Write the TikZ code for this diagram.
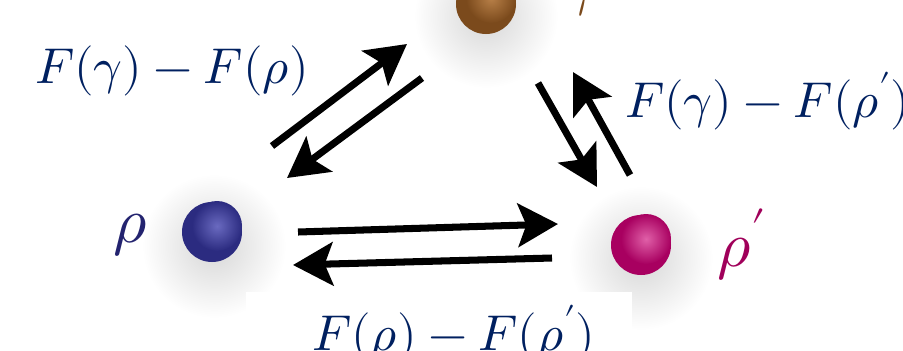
\documentclass[tikz,border=0pt]{standalone}
\usepackage{amsmath, amssymb}
\usepackage{unicode-math}
\usepackage{tikz}
\usetikzlibrary{arrows.meta}

\definecolor{labelblue}{HTML}{002060}
\definecolor{rhoblue}{HTML}{23236F}
\definecolor{rhopink}{HTML}{A0005A}
\definecolor{gambrown}{HTML}{7B4A1C}
\definecolor{blueball}{HTML}{2B2B80}
\definecolor{bluelight}{HTML}{6A6AC0}
\definecolor{pinkball}{HTML}{A80060}
\definecolor{pinklight}{HTML}{E060A8}
\definecolor{brownball}{HTML}{7B4A1C}
\definecolor{brownlight}{HTML}{B88048}

\tikzset{
  flux/.style={line width=6pt, -{Stealth[length=12mm, width=13mm, inset=2.5mm]}},
  ballnode/.style={circle, minimum size=1.8cm, inner sep=0pt},
  difflabel/.style={anchor=base west, inner sep=0pt, text=labelblue,
    font=\fontsize{43}{52}\selectfont},
  statelabel/.style={anchor=base west, inner sep=0pt,
    font=\fontsize{55}{64}\selectfont}
}

\begin{document}
\begin{tikzpicture}[x=0.3mm, y=-0.3mm]
  \path[use as bounding box, clip] (0, 0) rectangle (903, 350);
  % soft shadows under the balls
  \foreach \p in {{486,16}, {214,246}, {641,258}}
    \shade[inner color=black!16, outer color=white] (\p) circle (72);
  \fill[white] (246, 292) rectangle (632, 350);
  % the three states
  \foreach \n/\p/\c/\h in {gam/{486,4}/brownball/brownlight,
                           rho/{212,232}/blueball/bluelight,
                           rhop/{641,245}/pinkball/pinklight} {
    \node[ballnode, fill=\c] (\n) at (\p) {};
    \shade[inner color=\h, outer color=\c] ([shift={(5,-6)}]\n.center) circle (25);
  }
  \node[statelabel, text=rhoblue] (rholab) at (113, 242) {$\rho$};
  \node[statelabel, text=rhopink] (rhoplab) at (717, 266) {$\rho'$};
  \node[statelabel, text=gambrown] (gamlab) at (560, 2) {$\gamma$};
  % arrow ends
  \coordinate (rg-s) at (272, 146);
  \coordinate (rg-e) at (407, 44);
  \coordinate (gr-s) at (422, 78);
  \coordinate (gr-e) at (287, 178);
  \coordinate (gp-s) at (538, 83);
  \coordinate (gp-e) at (597, 187);
  \coordinate (pg-s) at (630, 175);
  \coordinate (pg-e) at (573, 72);
  \coordinate (rp-s) at (298, 232);
  \coordinate (rp-e) at (558, 224);
  \coordinate (pr-s) at (552, 258);
  \coordinate (pr-e) at (293, 265);
  \foreach \a in {rg, gr, gp, pg, rp, pr}
    \draw[flux] (\a-s) -- (\a-e);
  % energy differences
  \node[difflabel] (lab-rg) at (35, 83) {$F(\gamma)-F(\rho)$};
  \node[difflabel] (lab-pg) at (625, 117) {$F(\gamma)-F(\rho')$};
  \node[difflabel] (lab-rp) at (312, 350) {$F(\rho)-F(\rho')$};
\end{tikzpicture}
\end{document}
